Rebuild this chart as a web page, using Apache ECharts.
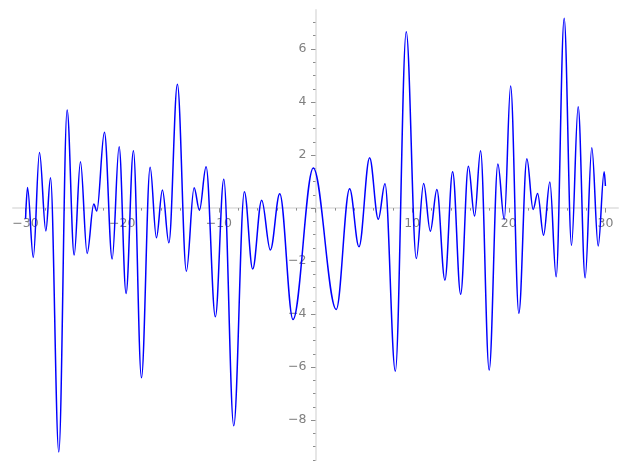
<!DOCTYPE html>
<html><head><meta charset="utf-8">
<script src="https://cdn.jsdelivr.net/npm/echarts@6/dist/echarts.min.js"></script>
<style>html,body{margin:0;padding:0;background:#fff}#c{width:627px;height:470px}</style>
</head><body><div id="c"></div>
<script>
// Curve samples (local extrema plus the end points)
const xValues = [
  -30.00, -29.80, -29.20, -28.56, -27.90, -27.42, -26.56, -25.70, -24.97, -24.32,
  -23.63, -22.94, -22.63, -21.84, -21.04, -20.32, -19.60, -18.84, -18.01, -17.11,
  -16.46, -15.84, -15.17, -14.29, -13.36, -12.56, -12.01, -11.32, -10.36, -9.49,
  -8.46, -7.36, -6.50, -5.57, -4.67, -3.70, -2.33, -0.23, 2.15, 3.53,
  4.50, 5.60, 6.50, 7.19, 8.26, 9.39, 10.43, 11.19, 11.88, 12.56,
  13.39, 14.19, 15.02, 15.82, 16.46, 17.08, 17.97, 18.87, 19.53, 20.19,
  21.04, 21.87, 22.52, 22.98, 23.60, 24.25, 24.90, 25.73, 26.49, 27.18,
  27.90, 28.59, 29.25, 29.87, 30.00
];
const yValues = [
  -0.40, 0.78, -1.86, 2.10, -0.86, 1.14, -9.20, 3.70, -1.77, 1.75,
  -1.71, 0.15, -0.11, 2.86, -1.92, 2.31, -3.22, 2.16, -6.40, 1.54,
  -1.12, 0.68, -1.31, 4.67, -2.38, 0.77, -0.08, 1.56, -4.10, 1.09,
  -8.21, 0.62, -2.30, 0.30, -1.58, 0.54, -4.20, 1.51, -3.82, 0.73,
  -1.46, 1.90, -0.42, 0.92, -6.15, 6.65, -1.90, 0.93, -0.87, 0.70,
  -2.72, 1.37, -3.25, 1.58, -0.30, 2.16, -6.11, 1.66, -0.43, 4.60,
  -3.97, 1.86, -0.05, 0.55, -1.02, 0.98, -2.59, 7.16, -1.40, 3.82,
  -2.63, 2.28, -1.43, 1.37, 0.83
];
const xMajorTicks = [-30, -20, -10, 0, 10, 20, 30];
const xTickLabels = [-30, -20, -10, 10, 20, 30];
const xMinorTicks = [-28, -26, -24, -22, -18, -16, -14, -12, -8, -6, -4, -2,
  2, 4, 6, 8, 12, 14, 16, 18, 22, 24, 26, 28];
const yMajorTicks = [-8, -6, -4, -2, 0, 2, 4, 6];
const yTickLabels = [-8, -6, -4, -2, 2, 4, 6];
const yMinorTicks = [-9.5, -9, -8.5, -7.5, -7, -6.5, -5.5, -5, -4.5, -3.5, -3, -2.5,
  -1.5, -1, -0.5, 0.5, 1, 1.5, 2.5, 3, 3.5, 4.5, 5, 5.5, 6.5, 7];

const X_MIN = -31.3, X_MAX = 31.3, Y_MIN = -9.5, Y_MAX = 7.47;
const labelColor = '#808080';
const tickColor = '#8c8c8c';
const fmt = v => (v < 0 ? '\u2212' + Math.abs(v) : String(v));

const G = { left: 13, top: 10, width: 605, height: 450 };
// place the axes through the origin (layout only)
const xAxisOffset = -G.height * (0 - Y_MIN) / (Y_MAX - Y_MIN);
const yAxisOffset = -G.width * (0 - X_MIN) / (X_MAX - X_MIN);

const gridOpt = () => ({ left: G.left, top: G.top, width: G.width, height: G.height,
  containLabel: false, outerBoundsMode: 'none' });

const chart = echarts.init(document.getElementById('c'), null, { renderer: 'canvas' });
chart.setOption({
  animation: false,
  backgroundColor: '#ffffff',
  grid: [gridOpt(), gridOpt()],
  xAxis: [
    {
      type: 'value', gridIndex: 0, min: X_MIN, max: X_MAX, position: 'bottom', offset: xAxisOffset,
      axisLine: { onZero: false, lineStyle: { color: '#e6e6e6', width: 2 } },
      axisTick: { show: true, customValues: xMajorTicks, length: 4.5, lineStyle: { color: tickColor, width: 1 } },
      axisLabel: { customValues: xTickLabels, formatter: fmt, color: labelColor, fontSize: 12.5,
        fontFamily: 'DejaVu Sans', margin: 9 },
      splitLine: { show: false }
    },
    {
      type: 'value', gridIndex: 1, min: X_MIN, max: X_MAX, position: 'bottom', offset: xAxisOffset,
      axisLine: { show: false, onZero: false },
      axisTick: { show: true, customValues: xMinorTicks, length: 2.5, lineStyle: { color: tickColor, width: 1 } },
      axisLabel: { show: false },
      splitLine: { show: false }
    }
  ],
  yAxis: [
    {
      type: 'value', gridIndex: 0, min: Y_MIN, max: Y_MAX, position: 'left', offset: yAxisOffset,
      axisLine: { onZero: false, lineStyle: { color: '#e6e6e6', width: 2 } },
      axisTick: { show: true, customValues: yMajorTicks, length: 4.5, lineStyle: { color: tickColor, width: 1 } },
      axisLabel: { customValues: yTickLabels, formatter: fmt, color: labelColor, fontSize: 12.5,
        fontFamily: 'DejaVu Sans', margin: 9 },
      splitLine: { show: false }
    },
    {
      type: 'value', gridIndex: 1, min: Y_MIN, max: Y_MAX, position: 'left', offset: yAxisOffset,
      axisLine: { show: false, onZero: false },
      axisTick: { show: true, customValues: yMinorTicks, length: 2.5, lineStyle: { color: tickColor, width: 1 } },
      axisLabel: { show: false },
      splitLine: { show: false }
    }
  ],
  series: [{
    type: 'line',
    xAxisIndex: 0, yAxisIndex: 0,
    data: xValues.map((x, i) => [x, yValues[i]]),
    showSymbol: false,
    smooth: 0.36,
    smoothMonotone: 'x',
    lineStyle: { color: '#0000ff', width: 1.5 },
    z: 5
  }]
});
</script></body></html>
